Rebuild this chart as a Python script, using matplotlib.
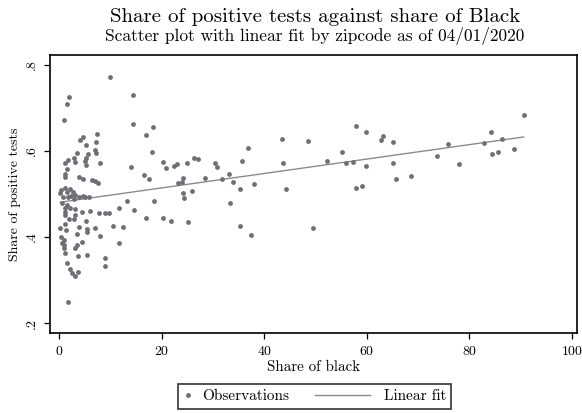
import matplotlib
matplotlib.use("Agg")
import matplotlib.pyplot as plt
from matplotlib.lines import Line2D
from matplotlib.legend_handler import HandlerLine2D
import numpy as np

plt.rcParams["font.family"] = ["cmr10", "DejaVu Serif"]
plt.rcParams["axes.formatter.use_mathtext"] = True

# share of black population by zipcode (x) and share of positive tests (y)
share_black = [
    1.80, 1.46, 0.88, 7.32, 4.59, 4.06, 7.07, 5.12, 6.99, 3.42,
    7.19, 5.51, 5.23, 2.83, 1.66, 1.02, 2.97, 5.04, 7.97, 5.18,
    1.41, 1.02, 1.13, 3.75, 4.53, 6.35, 6.88, 7.52,
    0.35, 1.13, 2.11, 2.58, 3.09, 2.30, 3.75, 4.53, 5.04, 5.70,
    1.66, 0.20, 1.46, 0.68, 2.83,
    0.49, 1.46, 1.07, 1.02, 1.02, 2.11, 3.09, 4.39, 6.02, 7.66,
    8.95, 9.73, 11.56, 13.18, 3.09, 2.77, 1.80, 5.23, 1.13, 3.75,
    0.16, 1.27, 5.37, 5.37, 6.99, 10.39, 12.34, 3.42, 0.35, 7.97,
    0.82, 0.49, 0.82, 0.82, 4.39, 3.42, 2.97, 11.56, 1.13, 3.61,
    5.43, 8.95, 1.46, 8.95, 2.11, 2.44, 3.09, 3.61, 1.66,
    9.86, 14.41, 14.41, 18.32, 16.84, 18.13, 20.27, 20.74, 22.42, 22.89,
    24.84, 26.33, 27.11, 13.96, 16.56, 17.48, 24.18, 23.98, 23.09, 18.52,
    24.18, 24.32, 25.82, 14.61, 16.84, 20.27, 21.78, 25.16,
    57.85, 59.80, 63.13, 62.73, 43.40, 48.59, 36.82, 35.70, 55.12, 52.30,
    55.96, 57.27, 59.86, 43.71, 30.37, 30.70, 28.42, 31.80, 33.16, 33.95,
    38.05, 35.20, 44.18, 57.85, 59.08, 33.36, 35.20, 37.34, 49.57,
    65.08, 65.08, 65.66, 68.65, 73.67, 75.82, 77.97, 82.77, 84.22, 86.43,
    84.41, 85.59, 88.77, 90.59,
]
share_positive = [
    0.725, 0.709, 0.672, 0.640, 0.633, 0.626, 0.622, 0.614, 0.602, 0.596,
    0.595, 0.593, 0.583, 0.584, 0.579, 0.573, 0.575, 0.577, 0.571, 0.567,
    0.559, 0.547, 0.540, 0.539, 0.534, 0.533, 0.531, 0.526,
    0.509, 0.513, 0.512, 0.505, 0.498, 0.495, 0.494, 0.495, 0.492, 0.494,
    0.494, 0.502, 0.505, 0.493, 0.488,
    0.478, 0.474, 0.467, 0.459, 0.451, 0.467, 0.465, 0.459, 0.461, 0.455,
    0.455, 0.457, 0.468, 0.484, 0.451, 0.442, 0.442, 0.437, 0.430, 0.424,
    0.420, 0.417, 0.418, 0.412, 0.420, 0.426, 0.424, 0.406, 0.401, 0.402,
    0.393, 0.385, 0.381, 0.374, 0.389, 0.381, 0.374, 0.387, 0.362, 0.356,
    0.358, 0.352, 0.339, 0.333, 0.326, 0.316, 0.310, 0.318, 0.250,
    0.773, 0.729, 0.662, 0.655, 0.636, 0.598, 0.575, 0.560, 0.566, 0.570,
    0.572, 0.583, 0.582, 0.562, 0.545, 0.535, 0.537, 0.527, 0.525, 0.484,
    0.502, 0.491, 0.508, 0.463, 0.445, 0.445, 0.438, 0.434,
    0.659, 0.645, 0.635, 0.626, 0.628, 0.624, 0.607, 0.577, 0.598, 0.577,
    0.571, 0.575, 0.565, 0.571, 0.571, 0.562, 0.537, 0.536, 0.547, 0.529,
    0.523, 0.512, 0.511, 0.513, 0.519, 0.480, 0.426, 0.404, 0.420,
    0.620, 0.573, 0.534, 0.543, 0.588, 0.616, 0.570, 0.619, 0.645, 0.628,
    0.594, 0.597, 0.604, 0.684,
]

x_ticks = [0, 20, 40, 60, 80, 100]
y_ticks = [0.2, 0.4, 0.6, 0.8]
y_tick_labels = [".2", ".4", ".6", ".8"]

x = np.array(share_black)
y = np.array(share_positive)

# linear fit over the range of the observations
slope, intercept = np.polyfit(x, y, 1)
fit_x = np.array([x.min(), x.max()])
fit_y = intercept + slope * fit_x

dot_color = "#6e6e76"
line_color = "#8a8a8a"


class LongLineHandler(HandlerLine2D):
    # legend key line that reaches further left than the (short) handle box
    def __init__(self, extra, **kw):
        super().__init__(**kw)
        self.extra = extra

    def create_artists(self, legend, orig_handle, xdescent, ydescent,
                       width, height, fontsize, trans):
        return super().create_artists(legend, orig_handle,
                                      xdescent + self.extra, ydescent,
                                      width + self.extra - 3, height,
                                      fontsize, trans)


fig = plt.figure(figsize=(5.82, 4.13), dpi=100)
ax = fig.add_axes([0.0859, 0.1937, 0.9055, 0.6731])

ax.scatter(x, y, s=12, color=dot_color, linewidths=0, zorder=3)
ax.plot(fit_x, fit_y, color=line_color, lw=1.0, zorder=2)

ax.set_xlim(-1.85, 101.0)
ax.set_ylim(0.177, 0.823)
ax.set_xticks(x_ticks)
ax.set_yticks(y_ticks)
ax.set_yticklabels(y_tick_labels, rotation=90, va="center")
ax.tick_params(direction="out", length=4, width=0.9, labelsize=10, pad=4.5)
for sp in ax.spines.values():
    sp.set_linewidth(1.2)

ax.set_xlabel("Share of black", fontsize=10.8, labelpad=2)
ax.set_ylabel("Share of positive tests", fontsize=10, labelpad=4)

fig.text(0.541, 0.958, "Share of positive tests against share of Black",
         ha="center", va="center", fontsize=15)
fig.text(0.541, 0.913, "Scatter plot with linear fit by zipcode as of 04/01/2020",
         ha="center", va="center", fontsize=12.5)

obs_handle = Line2D([], [], marker="o", ls="none", color=dot_color, markersize=2.5)
fit_handle = Line2D([], [], color=line_color, lw=1.0)
leg = fig.legend([obs_handle, fit_handle], ["Observations", "Linear fit"], ncol=2,
                 loc="center", bbox_to_anchor=(0.541, 0.040),
                 fontsize=11, frameon=True, fancybox=False,
                 edgecolor="black", handlelength=0.6, columnspacing=5.0,
                 handletextpad=0.6, borderpad=0.35, borderaxespad=0,
                 handler_map={fit_handle: LongLineHandler(36)})
leg.get_frame().set_linewidth(1.2)

fig.savefig("out.png", dpi=100, facecolor="white")
